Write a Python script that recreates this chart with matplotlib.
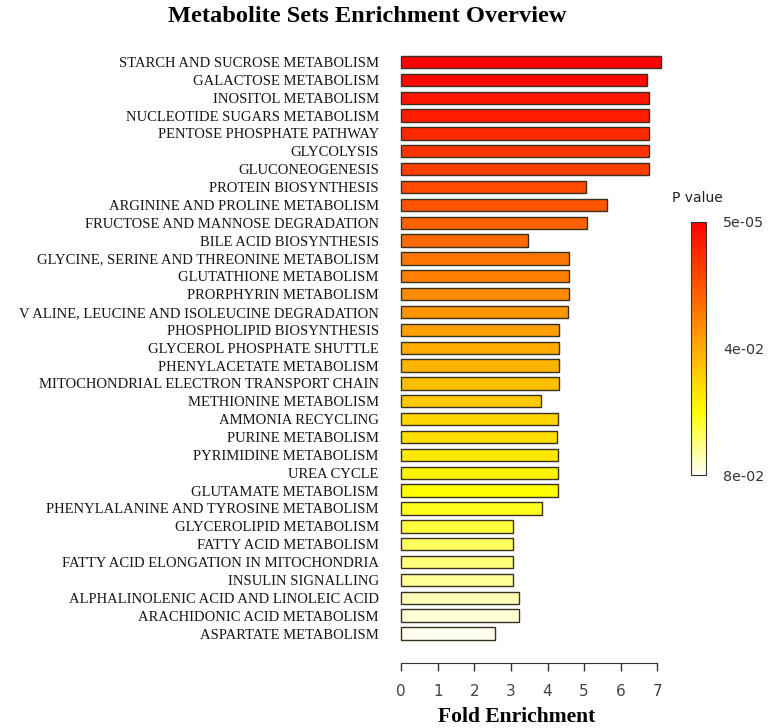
import matplotlib
matplotlib.use('Agg')
import matplotlib.pyplot as plt
import numpy as np
from matplotlib.colors import LinearSegmentedColormap, Normalize

# metabolite sets, top to bottom
pathways = [
    'STARCH AND SUCROSE METABOLISM', 'GALACTOSE METABOLISM', 'INOSITOL METABOLISM',
    'NUCLEOTIDE SUGARS METABOLISM', 'PENTOSE PHOSPHATE PATHWAY', 'GLYCOLYSIS',
    'GLUCONEOGENESIS', 'PROTEIN BIOSYNTHESIS', 'ARGININE AND PROLINE METABOLISM',
    'FRUCTOSE AND MANNOSE DEGRADATION', 'BILE ACID BIOSYNTHESIS',
    'GLYCINE, SERINE AND THREONINE METABOLISM', 'GLUTATHIONE METABOLISM',
    'PRORPHYRIN METABOLISM', 'V ALINE, LEUCINE AND ISOLEUCINE DEGRADATION',
    'PHOSPHOLIPID BIOSYNTHESIS', 'GLYCEROL PHOSPHATE SHUTTLE', 'PHENYLACETATE METABOLISM',
    'MITOCHONDRIAL ELECTRON TRANSPORT CHAIN', 'METHIONINE METABOLISM', 'AMMONIA RECYCLING',
    'PURINE METABOLISM', 'PYRIMIDINE METABOLISM', 'UREA CYCLE', 'GLUTAMATE METABOLISM',
    'PHENYLALANINE AND TYROSINE METABOLISM', 'GLYCEROLIPID METABOLISM',
    'FATTY ACID METABOLISM', 'FATTY ACID ELONGATION IN MITOCHONDRIA', 'INSULIN SIGNALLING',
    'ALPHALINOLENIC ACID AND LINOLEIC ACID', 'ARACHIDONIC ACID METABOLISM',
    'ASPARTATE METABOLISM',
]

fold = [7.11, 6.71, 6.77, 6.77, 6.77, 6.77, 6.77, 5.06, 5.62, 5.09, 3.46,
        4.59, 4.59, 4.59, 4.55, 4.32, 4.32, 4.32, 4.32, 3.83, 4.29,
        4.26, 4.29, 4.29, 4.29, 3.86, 3.06, 3.06, 3.06, 3.06, 3.23,
        3.23, 2.57]

pvals = [5e-05, 0.0021, 0.0048, 0.0072, 0.0098, 0.0123, 0.0149, 0.0178, 0.0202, 0.0226,
         0.0251, 0.0276, 0.0301, 0.0326, 0.0352, 0.0376, 0.0401, 0.0424, 0.0449, 0.0474,
         0.0499, 0.0524, 0.0549, 0.0574, 0.0598, 0.0624, 0.0649, 0.0674, 0.0699, 0.0724,
         0.0749, 0.0772, 0.0795]

cb_ticks = [5e-05, 0.04, 0.08]
cb_labels = ['5e-05', '4e-02', '8e-02']

cmap = LinearSegmentedColormap.from_list(
    'heat', [(0, '#ff0000'), (0.75, '#ffff00'), (1, '#fffff4')])
norm = Normalize(vmin=5e-05, vmax=0.08)

fig = plt.figure(figsize=(7.7, 7.28), dpi=100)
ax = fig.add_axes([0.5208, 0.0893, 0.3473, 0.8452])

y = np.arange(len(pathways))
ax.barh(y, fold, height=0.69, color=cmap(norm(pvals)), edgecolor='#3a3020',
        linewidth=1.0, clip_on=False)
ax.set_ylim(len(pathways) - 1 + 1.65, -0.8)
ax.set_xlim(0, 7.3)

ax.set_yticks(y)
ax.set_yticklabels(pathways, family='Liberation Serif', fontsize=10.5, color='#161616')
ax.tick_params(axis='y', length=0, pad=16)

ax.set_xticks(range(8))
ax.tick_params(axis='x', length=6, width=1, pad=9, labelsize=11, labelcolor='#444444',
               color='#333333')
for t in ax.get_xticklabels():
    t.set_family('DejaVu Sans')

for s in ['top', 'right', 'left']:
    ax.spines[s].set_visible(False)
ax.spines['bottom'].set_bounds(0, 7)
ax.spines['bottom'].set_color('#333333')

fig.text(0.477, 0.978, 'Metabolite Sets Enrichment Overview', ha='center', va='center',
         family='Liberation Serif', fontweight='bold', fontsize=17.6)
fig.text(0.671, 0.015, 'Fold Enrichment', ha='center', va='center',
         family='Liberation Serif', fontweight='bold', fontsize=15.5)

# color bar
cax = fig.add_axes([0.897, 0.3475, 0.0195, 0.348])
sm = plt.cm.ScalarMappable(cmap=cmap, norm=norm)
cb = fig.colorbar(sm, cax=cax)
cb.ax.invert_yaxis()
cb.set_ticks(cb_ticks)
cb.set_ticklabels(cb_labels)
cb.ax.tick_params(length=0, pad=12.5, labelsize=10.3, labelcolor='#333333')
cb.outline.set_edgecolor('#333333')
fig.text(0.873, 0.728, 'P value', ha='left', va='center', fontsize=10, color='#222222')

plt.savefig('out.png', dpi=100)
